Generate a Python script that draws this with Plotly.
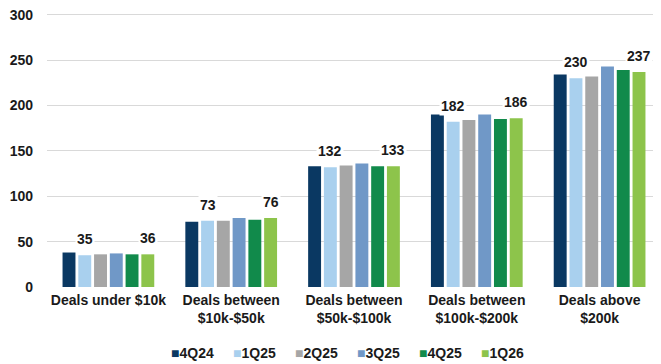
import plotly.graph_objects as go

categories = ["Deals under $10k", "Deals between<br>$10k-$50k", "Deals between<br>$50k-$100k",
              "Deals between<br>$100k-$200k", "Deals above<br>$200k"]
series_names = ["4Q24", "1Q25", "2Q25", "3Q25", "4Q25", "1Q26"]
v_4q24 = [38, 72, 133, 190, 234]
v_1q25 = [35, 73, 132, 182, 230]
v_2q25 = [36, 73, 134, 184, 232]
v_3q25 = [37, 76, 136, 190, 243]
v_4q25 = [36, 74, 133, 185, 239]
v_1q26 = [36, 76, 133, 186, 237]
series_values = [v_4q24, v_1q25, v_2q25, v_3q25, v_4q25, v_1q26]
colors = ["#0a3862", "#a9d0ee", "#a6a6a6", "#7098c7", "#118a4b", "#8dc44b"]
labelled_series = [1, 5]
y_ticks = [0, 50, 100, 150, 200, 250, 300]

BARGAP = 0.23
FONT = "Liberation Sans, Arial, sans-serif"
TXT = "#1a1a1a"
# the page adds an 8px body margin, so the figure is drawn 8px in from the corner
PAGE_OFF = 8
W, H = 661 - PAGE_OFF, 364 - PAGE_OFF
ML, MR, MT, MB = 47 - PAGE_OFF, 0, 12 - PAGE_OFF, 77

fig = go.Figure()
xs = list(range(len(categories)))
for name, vals, col in zip(series_names, series_values, colors):
    fig.add_trace(go.Bar(x=xs, y=vals, name=name, marker_color=col,
                         marker_line_width=0, showlegend=False))

n = len(series_names)
slot = (1 - BARGAP) / n
for k in labelled_series:
    for i, v in enumerate(series_values[k]):
        xpos = i - (1 - BARGAP) / 2 + (k + 0.5) * slot
        fig.add_annotation(x=xpos, y=v, text=f"<b>{v}</b>", showarrow=False,
                           yanchor="bottom", yshift=6, bgcolor="white", borderpad=1,
                           font=dict(family=FONT, size=14, color=TXT))

# custom legend (small square + bold label), centred under the chart
plot_w = W - ML - MR
plot_h = H - MT - MB
leg_left_px, leg_step_px, leg_mid_px = 169 - PAGE_OFF, 62, 353 - PAGE_OFF
for k, (name, col) in enumerate(zip(series_names, colors)):
    px = leg_left_px + k * leg_step_px
    fig.add_annotation(xref="paper", yref="paper",
                       x=(px - ML) / plot_w, y=(H - MB - leg_mid_px) / plot_h,
                       xanchor="left", yanchor="middle", showarrow=False,
                       text=f"<span style='color:{col}'>■</span><b>{name}</b>",
                       font=dict(family=FONT, size=14, color=TXT))

fig.update_layout(
    width=W, height=H,
    margin=dict(l=ML, r=MR, t=MT, b=MB, autoexpand=False),
    paper_bgcolor="white", plot_bgcolor="white",
    barmode="group", bargap=BARGAP, bargroupgap=0.18,
    font=dict(family=FONT, size=14, color=TXT),
    showlegend=False,
)
fig.update_xaxes(tickmode="array", tickvals=xs,
                 ticktext=[f"<b>{c}</b>" for c in categories],
                 range=[-0.5, len(categories) - 0.5], showgrid=False, zeroline=False,
                 showline=False, ticks="", automargin=False, ticklabelstandoff=3,
                 tickfont=dict(size=14, family=FONT, color=TXT))
fig.update_yaxes(range=[0, 303], tickvals=y_ticks,
                 ticktext=[f"<b>{t}</b>" for t in y_ticks],
                 showgrid=True, gridcolor="#d9d9d9", gridwidth=1, zeroline=False,
                 showline=False, ticks="", ticklabelstandoff=13, automargin=False,
                 ticklabeloverflow="allow",
                 tickfont=dict(size=14, family=FONT, color=TXT))

fig.write_html("out.html")
